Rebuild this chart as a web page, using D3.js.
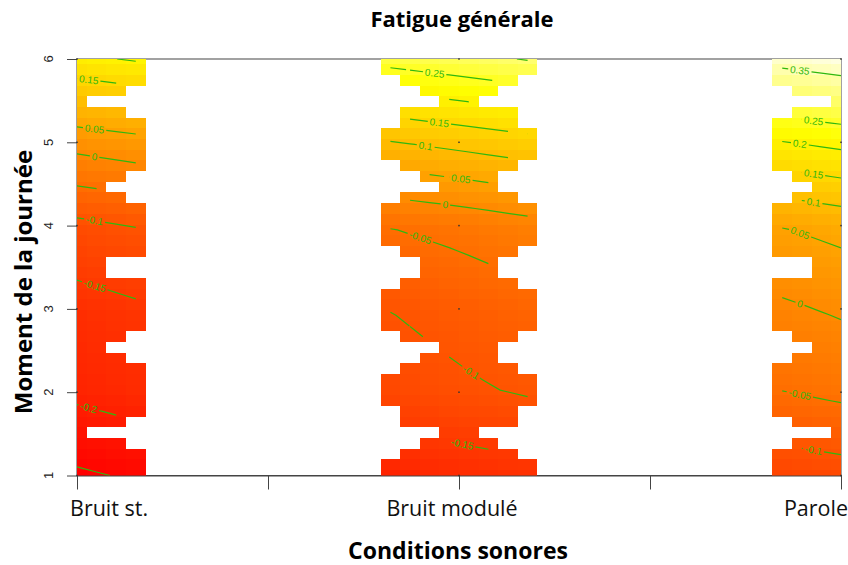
<!DOCTYPE html>
<html>
<head>
<meta charset="utf-8">
<script src="https://cdn.jsdelivr.net/npm/d3@7"></script>
<style>
  body { margin: 0; background: #fff; }
  text { font-family: "Open Sans", Lato, sans-serif; }
  .tick-num { font-family: "Liberation Sans", Arial, sans-serif; font-size: 13px; fill: #222; }
  .clab { font-family: "Liberation Sans", Arial, sans-serif; font-size: 10px; fill: #2fb80f; }
</style>
</head>
<body>
<svg id="chart" width="848" height="565"></svg>
<script>
// Fatigue générale : surface interpolée (moment de la journée x condition sonore)

const conditions = ['Bruit st.', 'Bruit modulé', 'Parole'];   // x = 1, 2, 3
const moments = [1, 2, 3, 4, 5, 6];
const xTicks = [1, 1.5, 2, 2.5, 3];
const contourLevels = [-0.25, -0.2, -0.15, -0.1, -0.05, 0, 0.05, 0.1, 0.15, 0.2, 0.25, 0.3, 0.35];

// fatigue at moments 1..6, one list per condition
const fatigueBruitSt  = [-0.257, -0.19, -0.17, -0.112, 0.018, 0.19];
const fatigueBruitMod = [-0.176, -0.108, -0.084, -0.035, 0.115, 0.285];
const fatigueParole   = [-0.12, -0.04, 0.006, 0.066, 0.213, 0.384];

// 40x40 interpolation grid, rows listed from the top (moment 6) down.
// how many grid cells are filled beside each condition
const spanBruitSt   = [4,4,4,3,1,3,4,4,4,4,4,3,2,3,4,4,4,4,4,2,2,4,4,4,4,4,3,2,3,4,4,4,4,4,3,1,3,4,4,4];
const spanModLeft   = [4,4,3,2,1,3,3,4,4,4,3,2,1,3,4,4,4,4,3,2,2,3,4,4,4,4,3,1,2,3,4,4,4,3,3,1,2,3,4,4];
const spanModRight  = [4,4,3,2,1,3,3,4,4,4,3,2,2,3,4,4,4,4,3,2,2,3,4,4,4,4,3,2,2,3,4,4,4,3,3,1,2,3,4,4];
const spanParole    = [4,4,4,3,1,3,4,4,4,4,4,3,2,3,4,4,4,4,4,2,2,4,4,4,4,4,3,2,3,4,4,4,4,4,3,1,3,4,4,4];

const N = 40;

////////////////////////////////////////////////////////////////////////////////
// Setup
const margin = { left: 77, top: 59, right: 7, bottom: 89.5 };
const width = 848 - margin.left - margin.right;
const height = 565 - margin.top - margin.bottom;

const svg = d3.select('#chart');
const frame = svg.append('g')
  .attr('transform', `translate(${margin.left} ${margin.top})`);

const xScale = d3.scaleLinear().domain([1, 3]).range([0, width]);
const yScale = d3.scaleLinear().domain([1, 6]).range([height, 0]);

// box + axes go underneath the image, like the original
frame.append('rect')
  .attr('width', width).attr('height', height)
  .attr('fill', 'none').attr('stroke', '#444');

const xAxis = frame.append('g')
  .attr('transform', `translate(0 ${height})`)
  .call(d3.axisBottom(xScale).tickValues(xTicks).tickSize(14).tickSizeOuter(0).tickFormat(''));
xAxis.selectAll('line, path').attr('stroke', '#444');

const yAxis = frame.append('g')
  .call(d3.axisLeft(yScale).tickValues(moments).tickSize(10).tickSizeOuter(0).tickFormat(''));
yAxis.selectAll('line, path').attr('stroke', '#444');

yAxis.selectAll('.num')
  .data(moments)
  .enter().append('text')
  .attr('class', 'tick-num')
  .attr('text-anchor', 'middle')
  .attr('transform', d => `translate(-24 ${yScale(d)}) rotate(-90)`)
  .text(d => d);

////////////////////////////////////////////////////////////////////////////////
// Grid values
const values = [fatigueBruitSt, fatigueBruitMod, fatigueParole];
const gx = d3.range(N).map(i => 1 + 2 * i / (N - 1));
const gy = d3.range(N).map(j => 1 + 5 * j / (N - 1));

function surface (x, y) {
  const cx = Math.min(Math.floor(x - 1), 1), fx = x - 1 - cx;
  const ry = Math.min(Math.floor(y - 1), 4), fy = y - 1 - ry;
  const a = values[cx][ry] + (values[cx][ry + 1] - values[cx][ry]) * fy;
  const b = values[cx + 1][ry] + (values[cx + 1][ry + 1] - values[cx + 1][ry]) * fy;
  return a + (b - a) * fx;
}

const mask = d3.range(N).map(() => new Array(N).fill(false));
for (let j = 0; j < N; j++) {
  const t = N - 1 - j;
  for (let i = 0; i < spanBruitSt[t]; i++) mask[i][j] = true;
  for (let i = 20 - spanModLeft[t]; i < 20 + spanModRight[t]; i++) mask[i][j] = true;
  for (let i = N - spanParole[t]; i < N; i++) mask[i][j] = true;
}

const cells = [];
const z = d3.range(N).map(i => d3.range(N).map(j => surface(gx[i], gy[j])));
for (let i = 0; i < N; i++) for (let j = 0; j < N; j++) {
  if (mask[i][j]) cells.push({ i, j, z: z[i][j] });
}
const zMin = d3.min(cells, d => d.z), zMax = d3.max(cells, d => d.z);

// heat.colors style ramp: red -> yellow, then yellow -> pale
function heat (v) {
  const f = (v - zMin) / (zMax - zMin);
  if (f < 0.75) return d3.rgb(255, 255 * f / 0.75, 0);
  return d3.rgb(255, 255, 255 * 0.88 * (f - 0.75) / 0.25);
}

const dx = 2 / (N - 1), dy = 5 / (N - 1);

frame.append('clipPath').attr('id', 'plot-clip')
  .append('rect').attr('width', width).attr('height', height);

frame.append('g')
  .attr('clip-path', 'url(#plot-clip)')
  .attr('shape-rendering', 'crispEdges')
  .selectAll('rect')
  .data(cells)
  .enter().append('rect')
  .attr('x', d => xScale(gx[d.i] - dx / 2))
  .attr('y', d => yScale(gy[d.j] + dy / 2))
  .attr('width', xScale(1 + dx) - xScale(1))
  .attr('height', yScale(1) - yScale(1 + dy))
  .attr('fill', d => heat(d.z));

////////////////////////////////////////////////////////////////////////////////
// Contours (marching squares on the masked grid)
function contourChains (level) {
  const pts = new Map(), adj = new Map();
  function cross (type, i0, j0, i1, j1) {
    const a = z[i0][j0], b = z[i1][j1];
    if ((a >= level) === (b >= level)) return null;
    const f = (level - a) / (b - a);
    const key = `${type}${i0},${j0}`;
    pts.set(key, [gx[i0] + (gx[i1] - gx[i0]) * f, gy[j0] + (gy[j1] - gy[j0]) * f]);
    return key;
  }
  function link (a, b) {
    if (!adj.has(a)) adj.set(a, []);
    if (!adj.has(b)) adj.set(b, []);
    adj.get(a).push(b); adj.get(b).push(a);
  }
  for (let i = 0; i < N - 1; i++) for (let j = 0; j < N - 1; j++) {
    if (!(mask[i][j] && mask[i + 1][j] && mask[i][j + 1] && mask[i + 1][j + 1])) continue;
    const k = [
      cross('h', i, j, i + 1, j),
      cross('v', i + 1, j, i + 1, j + 1),
      cross('h', i, j + 1, i + 1, j + 1),
      cross('v', i, j, i, j + 1),
    ].filter(Boolean);
    if (k.length === 2) link(k[0], k[1]);
    if (k.length === 4) { link(k[0], k[3]); link(k[1], k[2]); }
  }
  const seen = new Set(), chains = [];
  const walk = start => {
    const chain = [start]; seen.add(start);
    let cur = start;
    for (;;) {
      const next = adj.get(cur).find(n => !seen.has(n));
      if (next === undefined) break;
      seen.add(next); chain.push(next); cur = next;
    }
    return chain.map(k => pts.get(k));
  };
  for (const [k, list] of adj) if (list.length === 1 && !seen.has(k)) chains.push(walk(k));
  for (const k of adj.keys()) if (!seen.has(k)) chains.push(walk(k));
  return chains;
}

const lineLayer = frame.append('g').attr('clip-path', 'url(#plot-clip)');
const labelLayer = frame.append('g');

contourLevels.forEach(level => {
  contourChains(level).forEach(chain => {
    let p = chain.map(([x, y]) => [xScale(x), yScale(y)]);
    if (p[0][0] > p[p.length - 1][0]) p = p.reverse();
    const cum = [0];
    for (let k = 1; k < p.length; k++) {
      cum.push(cum[k - 1] + Math.hypot(p[k][0] - p[k - 1][0], p[k][1] - p[k - 1][1]));
    }
    const total = cum[cum.length - 1];
    const path = lineLayer.append('path')
      .attr('d', d3.line()(p))
      .attr('fill', 'none')
      .attr('stroke', '#2fb80f')
      .attr('stroke-width', 1.2);

    const label = labelLayer.append('text')
      .attr('class', 'clab')
      .attr('text-anchor', 'middle')
      .attr('dominant-baseline', 'central')
      .text(String(+level.toFixed(2)));
    const w = label.node().getComputedTextLength();
    if (total < w + 16) { label.remove(); return; }

    const at = Math.max(w / 2 + 2, Math.min(total * 0.3, total - w / 2 - 2));
    let k = 1;
    while (k < p.length - 1 && cum[k] < at) k++;
    const f = (at - cum[k - 1]) / (cum[k] - cum[k - 1] || 1);
    const px = p[k - 1][0] + (p[k][0] - p[k - 1][0]) * f;
    const py = p[k - 1][1] + (p[k][1] - p[k - 1][1]) * f;
    const ang = Math.atan2(p[k][1] - p[k - 1][1], p[k][0] - p[k - 1][0]) * 180 / Math.PI;
    label.attr('transform', `translate(${px} ${py}) rotate(${ang})`);

    const gapStart = Math.max(0, at - w / 2 - 2);
    path.attr('stroke-dasharray', `${gapStart} ${w + 4} ${total}`);
  });
});

// observation points
const obs = [];
values.forEach((list, c) => list.forEach((v, m) => obs.push({ x: c + 1, y: moments[m] })));
frame.append('g').selectAll('rect')
  .data(obs)
  .enter().append('rect')
  .attr('x', d => xScale(d.x) - 0.75)
  .attr('y', d => yScale(d.y) - 0.75)
  .attr('width', 1.5).attr('height', 1.5)
  .attr('fill', '#333');

////////////////////////////////////////////////////////////////////////////////
// Labels
const condLabels = frame.append('g').attr('font-size', 21.5).attr('fill', '#111');
condLabels.selectAll('text')
  .data(conditions)
  .enter().append('text')
  .attr('x', (d, i) => [xScale(1) - 7, xScale(2) - 7, xScale(3) + 7][i])
  .attr('y', height + 40)
  .attr('text-anchor', (d, i) => ['start', 'middle', 'end'][i])
  .text(d => d);

svg.append('text')
  .attr('x', 462).attr('y', 27)
  .attr('text-anchor', 'middle')
  .attr('font-weight', 'bold').attr('font-size', 22)
  .text('Fatigue générale');

svg.append('text')
  .attr('x', 458).attr('y', 559)
  .attr('text-anchor', 'middle')
  .attr('font-weight', 'bold').attr('font-size', 23)
  .text('Conditions sonores');

svg.append('text')
  .attr('transform', 'translate(32 282) rotate(-90)')
  .attr('text-anchor', 'middle')
  .attr('font-weight', 'bold').attr('font-size', 24)
  .text('Moment de la journée');
</script>
</body>
</html>
